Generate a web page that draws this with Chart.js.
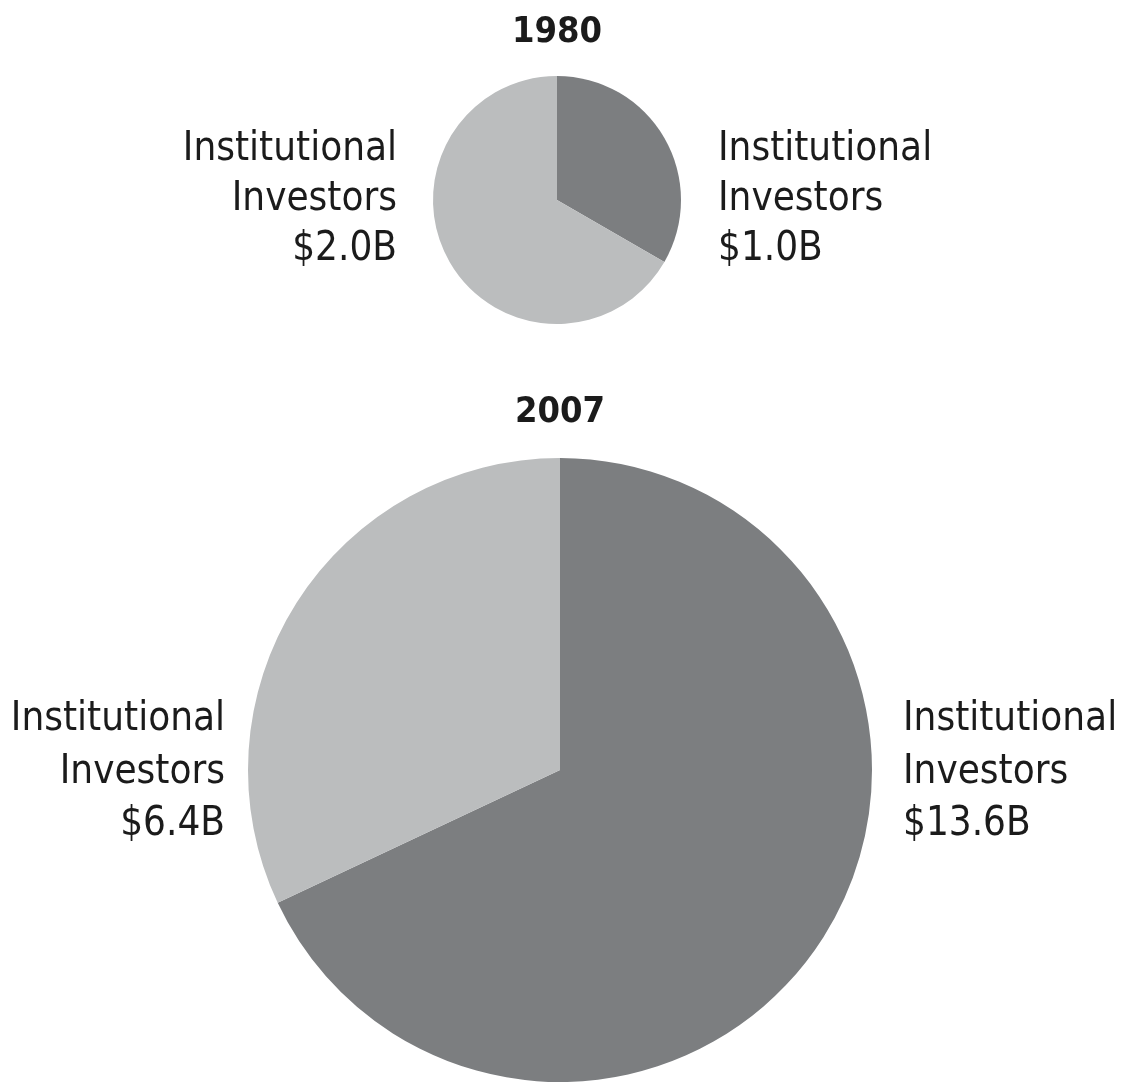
<!DOCTYPE html>
<html>
<head>
<meta charset="utf-8">
<script src="https://cdn.jsdelivr.net/npm/chart.js@4/dist/chart.umd.min.js"></script>
<style>
    body { margin: 0; background: #fff; }
    #wrap { position: relative; width: 1121px; height: 1082px; }
    canvas { position: absolute; left: 0; }
    #pie1980 { top: 0; }
    #pie2007 { top: 380px; }
</style>
</head>
<body>
<div id="wrap">
    <canvas id="pie1980" width="1121" height="380"></canvas>
    <canvas id="pie2007" width="1121" height="702"></canvas>
</div>
<script>
const years = ['1980', '2007']
const sliceLabels = ['Institutional Investors', 'Institutional Investors']
// dark slice first (from 12 o'clock clockwise), light slice second
const values1980 = [1.0, 2.0]
const values2007 = [13.6, 6.4]
const sliceColors = ['#7c7e80', '#bbbdbe']

const FONT = '"DejaVu Sans Condensed", "DejaVu Sans", sans-serif'
const fmt = v => '$' + v.toFixed(1) + 'B'

// draws the year above the pie and a text block on each side of it
const sideLabels = {
    id: 'sideLabels',
    afterDraw(chart, args, opts) {
        const arc = chart.getDatasetMeta(0).data[0]
        const vals = chart.data.datasets[0].data
        const ctx = chart.ctx
        const cx = arc.x, cy = arc.y
        ctx.save()
        ctx.fillStyle = '#1b1b1b'
        ctx.textBaseline = 'middle'

        ctx.font = 'bold ' + opts.titleSize + 'px ' + FONT
        ctx.textAlign = 'center'
        ctx.fillText(opts.title, cx, cy - opts.titleOffset)

        ctx.font = opts.size + 'px ' + FONT
        const lines = i => [...chart.data.labels[i].split(' '), fmt(vals[i])]
        // light slice on the left
        ctx.textAlign = 'right'
        lines(1).forEach((t, k) => ctx.fillText(t, cx - opts.gapLeft, cy + opts.lineTop + k * opts.lineStep))
        // dark slice on the right
        ctx.textAlign = 'left'
        lines(0).forEach((t, k) => ctx.fillText(t, cx + opts.gapRight, cy + opts.lineTop + k * opts.lineStep))
        ctx.restore()
    }
}

function makePie(id, values, title, padding, labelOpts) {
    return new Chart(document.getElementById(id), {
        type: 'pie',
        data: {
            labels: sliceLabels,
            datasets: [{
                data: values,
                backgroundColor: sliceColors,
                borderWidth: 0,
            }]
        },
        options: {
            responsive: false,
            animation: false,
            layout: { padding: padding },
            plugins: {
                legend: { display: false },
                tooltip: { enabled: false },
                sideLabels: Object.assign({ title: title }, labelOpts),
            }
        },
        plugins: [sideLabels]
    })
}

makePie('pie1980', values1980, years[0],
    { top: 76, bottom: 56, left: 433, right: 440 },
    { size: 40, titleSize: 36, titleOffset: 167, gapLeft: 160, gapRight: 161, lineTop: -50, lineStep: 50 })

makePie('pie2007', values2007, years[1],
    { top: 78, bottom: 0, left: 248, right: 249 },
    { size: 40, titleSize: 36, titleOffset: 357, gapLeft: 335, gapRight: 343, lineTop: -50, lineStep: 52.5 })
</script>
</body>
</html>
